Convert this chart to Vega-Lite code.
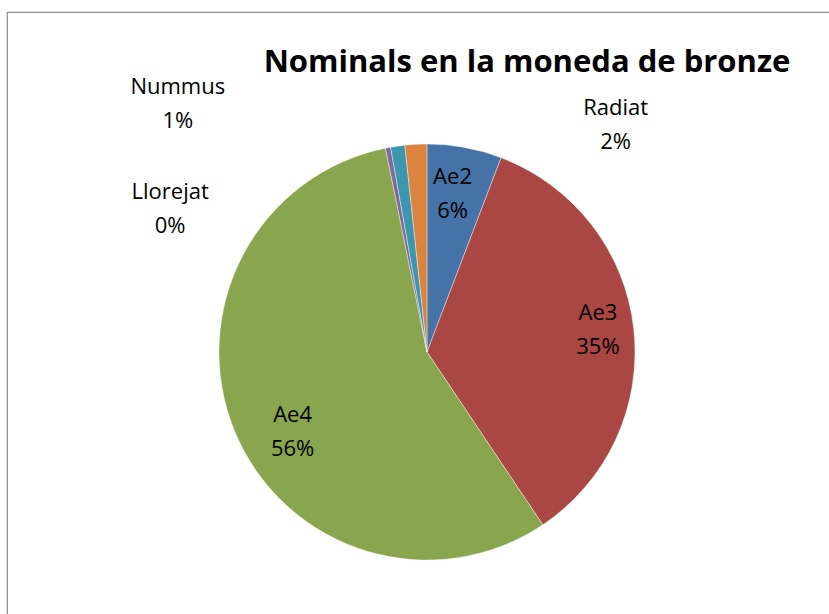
{
  "$schema": "https://vega.github.io/schema/vega-lite/v6.json",
  "width": 840,
  "height": 680,
  "autosize": {"type": "none"},
  "padding": {"left": 7, "top": 12, "right": 0, "bottom": 0},
  "background": "white",
  "view": {"stroke": "#8c8c8c", "strokeWidth": 1.2, "fill": "white"},
  "title": {
    "text": "Nominals en la moneda de bronze",
    "font": "Open Sans",
    "fontSize": 31,
    "fontWeight": "bold",
    "color": "black",
    "anchor": "middle",
    "dx": 100,
    "offset": -91,
    "baseline": "alphabetic"
  },
  "data": {
    "values": [
      {"nom": "Ae2", "v": 0.058},
      {"nom": "Ae3", "v": 0.348},
      {"nom": "Ae4", "v": 0.562},
      {"nom": "Llorejat", "v": 0.004},
      {"nom": "Nummus", "v": 0.011},
      {"nom": "Radiat", "v": 0.017}
    ]
  },
  "layer": [
    {
      "mark": {"type": "arc", "outerRadius": 208, "stroke": "#ffffff", "strokeWidth": 0.4},
      "encoding": {
        "theta": {"field": "v", "type": "quantitative", "stack": true},
        "order": {"field": "nom", "type": "ordinal"},
        "color": {
          "field": "nom", "type": "nominal", "legend": null,
          "scale": {"domain": ["Ae2", "Ae3", "Ae4", "Llorejat", "Nummus", "Radiat"],
                    "range": ["#4572A7", "#AA4643", "#89A54E", "#80699B", "#3D96AE", "#DB843D"]}
        }
      }
    },
    {"mark": {"type": "text", "radius": 163, "dx": -4, "dy": -15, "font": "Open Sans", "fontSize": 22, "color": "black"},
     "encoding": {"theta": {"field": "v", "type": "quantitative", "stack": true}, "order": {"field": "nom", "type": "ordinal"},
                  "text": {"condition": {"test": "datum.nom === 'Ae2'", "field": "nom", "type": "nominal"}, "value": ""}}},
    {"mark": {"type": "text", "radius": 163, "dx": -4, "dy": 19, "font": "Open Sans", "fontSize": 22, "color": "black"},
     "encoding": {"theta": {"field": "v", "type": "quantitative", "stack": true}, "order": {"field": "nom", "type": "ordinal"},
                  "text": {"condition": {"test": "datum.nom === 'Ae2'", "field": "v", "type": "quantitative", "format": ".0%"}, "value": ""}}},
    {"mark": {"type": "text", "radius": 163, "dx": 9, "dy": -21, "font": "Open Sans", "fontSize": 22, "color": "black"},
     "encoding": {"theta": {"field": "v", "type": "quantitative", "stack": true}, "order": {"field": "nom", "type": "ordinal"},
                  "text": {"condition": {"test": "datum.nom === 'Ae3'", "field": "nom", "type": "nominal"}, "value": ""}}},
    {"mark": {"type": "text", "radius": 163, "dx": 9, "dy": 13, "font": "Open Sans", "fontSize": 22, "color": "black"},
     "encoding": {"theta": {"field": "v", "type": "quantitative", "stack": true}, "order": {"field": "nom", "type": "ordinal"},
                  "text": {"condition": {"test": "datum.nom === 'Ae3'", "field": "v", "type": "quantitative", "format": ".0%"}, "value": ""}}},
    {"mark": {"type": "text", "radius": 163, "dx": 16, "dy": 0, "font": "Open Sans", "fontSize": 22, "color": "black"},
     "encoding": {"theta": {"field": "v", "type": "quantitative", "stack": true}, "order": {"field": "nom", "type": "ordinal"},
                  "text": {"condition": {"test": "datum.nom === 'Ae4'", "field": "nom", "type": "nominal"}, "value": ""}}},
    {"mark": {"type": "text", "radius": 163, "dx": 16, "dy": 34, "font": "Open Sans", "fontSize": 22, "color": "black"},
     "encoding": {"theta": {"field": "v", "type": "quantitative", "stack": true}, "order": {"field": "nom", "type": "ordinal"},
                  "text": {"condition": {"test": "datum.nom === 'Ae4'", "field": "v", "type": "quantitative", "format": ".0%"}, "value": ""}}},
    {"mark": {"type": "text", "radius": 250, "dx": -210, "dy": 86, "font": "Open Sans", "fontSize": 22, "color": "black"},
     "encoding": {"theta": {"field": "v", "type": "quantitative", "stack": true}, "order": {"field": "nom", "type": "ordinal"},
                  "text": {"condition": {"test": "datum.nom === 'Llorejat'", "field": "nom", "type": "nominal"}, "value": ""}}},
    {"mark": {"type": "text", "radius": 250, "dx": -210, "dy": 120, "font": "Open Sans", "fontSize": 22, "color": "black"},
     "encoding": {"theta": {"field": "v", "type": "quantitative", "stack": true}, "order": {"field": "nom", "type": "ordinal"},
                  "text": {"condition": {"test": "datum.nom === 'Llorejat'", "field": "v", "type": "quantitative", "format": ".0%"}, "value": ""}}},
    {"mark": {"type": "text", "radius": 250, "dx": -214, "dy": -17, "font": "Open Sans", "fontSize": 22, "color": "black"},
     "encoding": {"theta": {"field": "v", "type": "quantitative", "stack": true}, "order": {"field": "nom", "type": "ordinal"},
                  "text": {"condition": {"test": "datum.nom === 'Nummus'", "field": "nom", "type": "nominal"}, "value": ""}}},
    {"mark": {"type": "text", "radius": 250, "dx": -214, "dy": 17, "font": "Open Sans", "fontSize": 22, "color": "black"},
     "encoding": {"theta": {"field": "v", "type": "quantitative", "stack": true}, "order": {"field": "nom", "type": "ordinal"},
                  "text": {"condition": {"test": "datum.nom === 'Nummus'", "field": "v", "type": "quantitative", "format": ".0%"}, "value": ""}}},
    {"mark": {"type": "text", "radius": 250, "dx": 202, "dy": 6, "font": "Open Sans", "fontSize": 22, "color": "black"},
     "encoding": {"theta": {"field": "v", "type": "quantitative", "stack": true}, "order": {"field": "nom", "type": "ordinal"},
                  "text": {"condition": {"test": "datum.nom === 'Radiat'", "field": "nom", "type": "nominal"}, "value": ""}}},
    {"mark": {"type": "text", "radius": 250, "dx": 202, "dy": 40, "font": "Open Sans", "fontSize": 22, "color": "black"},
     "encoding": {"theta": {"field": "v", "type": "quantitative", "stack": true}, "order": {"field": "nom", "type": "ordinal"},
                  "text": {"condition": {"test": "datum.nom === 'Radiat'", "field": "v", "type": "quantitative", "format": ".0%"}, "value": ""}}}
  ]
}
